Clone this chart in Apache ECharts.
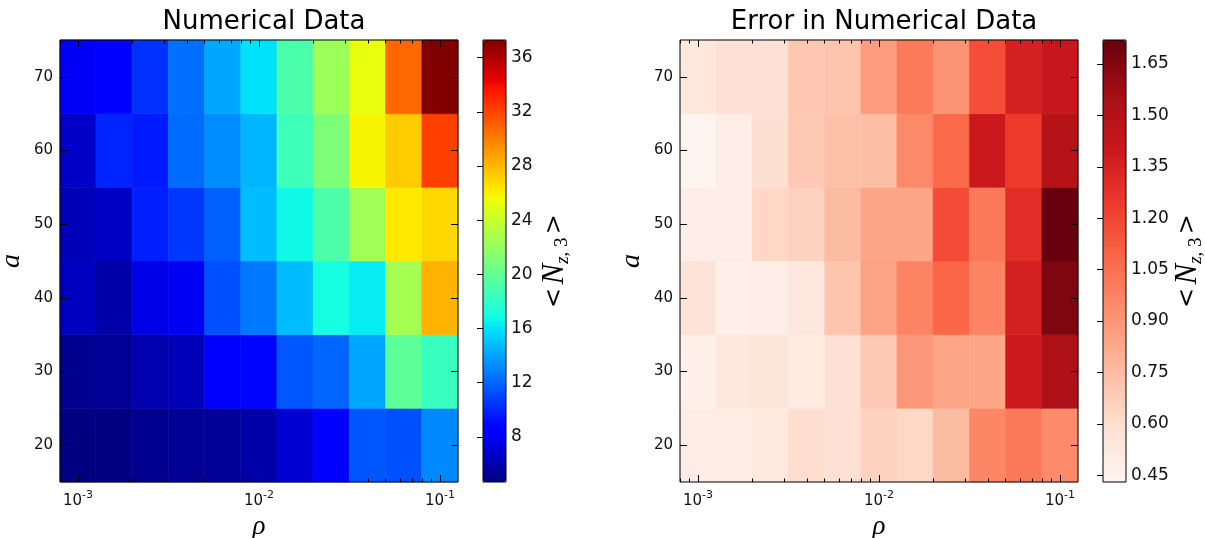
<!DOCTYPE html>
<html><head><meta charset="utf-8">
<script src="https://cdn.jsdelivr.net/npm/echarts@6/dist/echarts.min.js"></script>
<style>html,body{margin:0;padding:0;background:#fff}#c{width:1205px;height:538px}</style>
</head><body><div id="c"></div>
<script>
// ---------- data ----------
const rho = [0.001, 0.00158, 0.00251, 0.00398, 0.00631, 0.01, 0.0158, 0.0251, 0.0398, 0.0631, 0.1];
const aVals = [20, 30, 40, 50, 60, 70];
// rows: a = 20, 30, 40, 50, 60, 70 ; columns follow rho
const numerical = [
  [4.67, 4.75, 5.1, 5.2, 5.3, 5.8, 7.0, 8.3, 11.5, 11.3, 13.1],
  [5.1, 5.3, 6.0, 6.2, 8.4, 8.7, 11.5, 12.0, 14.1, 19.8, 18.3],
  [6.5, 5.8, 7.6, 8.0, 11.3, 12.6, 14.8, 17.0, 16.3, 22.6, 28.2],
  [6.3, 6.6, 9.7, 10.5, 11.8, 14.8, 16.7, 19.2, 22.5, 26.3, 26.9],
  [6.7, 9.9, 9.6, 12.2, 13.3, 14.6, 18.5, 21.1, 25.9, 27.3, 32.2],
  [8.1, 8.4, 10.3, 12.3, 14.1, 16.0, 19.1, 22.3, 25.3, 30.8, 37.3]
];
const errors = [
  [0.49, 0.49, 0.52, 0.60, 0.58, 0.65, 0.63, 0.75, 0.96, 1.02, 0.94],
  [0.46, 0.53, 0.55, 0.51, 0.58, 0.69, 0.89, 0.84, 0.84, 1.39, 1.52],
  [0.56, 0.47, 0.48, 0.53, 0.71, 0.85, 0.97, 1.09, 0.97, 1.36, 1.66],
  [0.48, 0.48, 0.63, 0.65, 0.75, 0.84, 0.84, 1.18, 1.02, 1.30, 1.72],
  [0.43, 0.48, 0.59, 0.69, 0.73, 0.74, 0.95, 1.07, 1.40, 1.24, 1.49],
  [0.53, 0.58, 0.58, 0.70, 0.71, 0.87, 1.01, 0.91, 1.17, 1.36, 1.41]
];
const titles = ['Numerical Data', 'Error in Numerical Data'];
const xMajorTicks = [0.001, 0.01, 0.1];
const yTicks = [20, 30, 40, 50, 60, 70];
const numBarTicks = [8, 12, 16, 20, 24, 28, 32, 36];
const errBarTicks = [0.45, 0.60, 0.75, 0.90, 1.05, 1.20, 1.35, 1.50, 1.65];
const xName = 'ρ';
const yName = 'a';

// ---------- colormaps ----------
function seg(t, pts) {
  for (let i = 1; i < pts.length; i++) {
    if (t <= pts[i][0]) {
      const [t0, v0] = pts[i - 1], [t1, v1] = pts[i];
      return v0 + (v1 - v0) * (t - t0) / (t1 - t0);
    }
  }
  return pts[pts.length - 1][1];
}
function jet(t) {
  const r = seg(t, [[0, 0], [0.35, 0], [0.66, 1], [0.89, 1], [1, 0.5]]);
  const g = seg(t, [[0, 0], [0.125, 0], [0.375, 1], [0.64, 1], [0.91, 0], [1, 0]]);
  const b = seg(t, [[0, 0.5], [0.11, 1], [0.34, 1], [0.65, 0], [1, 0]]);
  const h = v => Math.round(v * 255);
  return 'rgb(' + h(r) + ',' + h(g) + ',' + h(b) + ')';
}
const jetColors = [];
for (let i = 0; i <= 100; i++) jetColors.push(jet(i / 100));
const redsColors = ['#fff5f0', '#fee0d2', '#fcbba1', '#fc9272', '#fb6a4a', '#ef3b2c', '#cb181d', '#a50f15', '#67000d'];

// ---------- cell edges (from data) ----------
const xEdges = [];
xEdges.push(rho[0] / Math.sqrt(rho[1] / rho[0]));
for (let i = 0; i < rho.length - 1; i++) xEdges.push(Math.sqrt(rho[i] * rho[i + 1]));
xEdges.push(rho[rho.length - 1] * Math.sqrt(rho[rho.length - 1] / rho[rho.length - 2]));
const yEdges = [];
yEdges.push(aVals[0] - (aVals[1] - aVals[0]) / 2);
for (let i = 0; i < aVals.length - 1; i++) yEdges.push((aVals[i] + aVals[i + 1]) / 2);
yEdges.push(aVals[aVals.length - 1] + (aVals[aVals.length - 1] - aVals[aVals.length - 2]) / 2);

const xMinorTicks = [];
for (let e = -4; e <= 0; e++) for (let m = 2; m <= 9; m++) {
  const v = m * Math.pow(10, e);
  if (v > xEdges[0] && v < xEdges[xEdges.length - 1]) xMinorTicks.push(+v.toPrecision(3));
}

function cells(mat) {
  const out = [];
  mat.forEach((row, yi) => row.forEach((v, xi) => out.push([rho[xi], aVals[yi], v, xi, yi])));
  return out;
}
function flatMin(m) { return Math.min.apply(null, m.flat()); }
function flatMax(m) { return Math.max.apply(null, m.flat()); }

// ---------- layout ----------
const FONT = 'DejaVu Sans';
const heatGrids = [
  { left: 60, top: 40, width: 398, height: 442 },
  { left: 680, top: 40, width: 398, height: 442 }
];
const barGrids = [
  { left: 483, top: 40, width: 23, height: 442 },
  { left: 1103, top: 40, width: 23, height: 442 }
];
const gridBase = { show: true, borderColor: '#000', borderWidth: 1, backgroundColor: 'transparent', z: 10,
  containLabel: false, outerBoundsMode: 'none' };

const grid = [];
const xAxis = [];
const yAxis = [];
const series = [];
const visualMap = [];
const title = [];

const mathName = {
  rich: {
    op: { fontFamily: 'DejaVu Serif', fontSize: 24, color: '#000', lineHeight: 34, verticalAlign: 'middle' },
    n: { fontFamily: 'Liberation Serif', fontStyle: 'italic', fontSize: 31, color: '#000', lineHeight: 34, verticalAlign: 'middle' },
    sub: { fontFamily: 'Liberation Serif', fontStyle: 'italic', fontSize: 19, color: '#000', lineHeight: 34, verticalAlign: 'bottom' },
    subn: { fontFamily: 'Liberation Serif', fontSize: 19, color: '#000', lineHeight: 34, verticalAlign: 'bottom' }
  }
};
const tickStyle = { color: '#000', width: 1 };

[numerical, errors].forEach((mat, k) => {
  const gi = grid.length;
  grid.push(Object.assign({}, gridBase, heatGrids[k]));
  const base = { gridIndex: gi, type: 'log', logBase: 10, min: xEdges[0], max: xEdges[xEdges.length - 1], z: 10,
    splitLine: { show: false }, axisLine: { show: false } };
  const xi0 = xAxis.length;
  xAxis.push(Object.assign({}, base, {
    position: 'bottom',
    axisTick: { show: true, inside: true, length: 7, customValues: xMajorTicks, lineStyle: tickStyle },
    axisLabel: { show: true, customValues: xMajorTicks, margin: 8, color: '#000',
      formatter: v => '{b|10}{s|' + Math.round(Math.log10(v)) + '}',
      rich: { b: { fontFamily: FONT, fontSize: 15, color: '#111', lineHeight: 19, verticalAlign: 'bottom' },
              s: { fontFamily: FONT, fontSize: 11, color: '#111', lineHeight: 19, verticalAlign: 'top' } } },
    name: xName, nameLocation: 'middle', nameGap: 30,
    nameTextStyle: { fontFamily: 'Liberation Serif', fontStyle: 'italic', fontSize: 27, color: '#000' }
  }));
  xAxis.push(Object.assign({}, base, { position: 'bottom',
    axisTick: { show: true, inside: true, length: 3.5, customValues: xMinorTicks, lineStyle: tickStyle },
    axisLabel: { show: false } }));
  xAxis.push(Object.assign({}, base, { position: 'top',
    axisTick: { show: true, inside: true, length: 7, customValues: xMajorTicks, lineStyle: tickStyle },
    axisLabel: { show: false } }));
  xAxis.push(Object.assign({}, base, { position: 'top',
    axisTick: { show: true, inside: true, length: 3.5, customValues: xMinorTicks, lineStyle: tickStyle },
    axisLabel: { show: false } }));
  const ybase = { gridIndex: gi, type: 'value', min: yEdges[0], max: yEdges[yEdges.length - 1], z: 10,
    splitLine: { show: false }, axisLine: { show: false } };
  const yi0 = yAxis.length;
  yAxis.push(Object.assign({}, ybase, { position: 'left',
    axisTick: { show: true, inside: true, length: 7, customValues: yTicks, lineStyle: tickStyle },
    axisLabel: { show: true, customValues: yTicks, margin: 7, fontFamily: FONT, fontSize: 15, color: '#111' },
    name: yName, nameLocation: 'middle', nameGap: 34, nameRotate: 90,
    nameTextStyle: { fontFamily: 'Liberation Serif', fontStyle: 'italic', fontSize: 28, color: '#000' } }));
  yAxis.push(Object.assign({}, ybase, { position: 'right',
    axisTick: { show: true, inside: true, length: 7, customValues: yTicks, lineStyle: tickStyle },
    axisLabel: { show: false } }));

  const si = series.length;
  series.push({
    type: 'custom', xAxisIndex: xi0, yAxisIndex: yi0, z: 2,
    dimensions: ['rho', 'a', 'value', 'xi', 'yi'],
    encode: { x: 0, y: 1 },
    data: cells(mat),
    renderItem: (params, api) => {
      const xi = api.value(3), yi = api.value(4);
      const p0 = api.coord([xEdges[xi], yEdges[yi + 1]]);
      const p1 = api.coord([xEdges[xi + 1], yEdges[yi]]);
      const c = api.visual('color');
      return { type: 'rect', shape: { x: p0[0], y: p0[1], width: p1[0] - p0[0], height: p1[1] - p0[1] },
        style: { fill: c, stroke: c, lineWidth: 0.6 } };
    }
  });

  const vmin = flatMin(mat), vmax = flatMax(mat);
  const bg = barGrids[k];
  visualMap.push({
    type: 'continuous', seriesIndex: si, dimension: 2, min: vmin, max: vmax,
    inRange: { color: k === 0 ? jetColors : redsColors },
    calculable: false, hoverLink: false, orient: 'vertical', padding: 0,
    itemWidth: bg.width, itemHeight: bg.height, left: bg.left, top: bg.top, textGap: 0
  });

  const bgi = grid.length;
  grid.push(Object.assign({}, gridBase, bg));
  xAxis.push({ gridIndex: bgi, type: 'value', show: false, min: 0, max: 1 });
  const ticks = k === 0 ? numBarTicks : errBarTicks;
  yAxis.push({ gridIndex: bgi, type: 'value', position: 'right', min: vmin, max: vmax, z: 10,
    splitLine: { show: false }, axisLine: { show: false },
    axisTick: { show: true, inside: true, length: 6, customValues: ticks, lineStyle: tickStyle },
    axisLabel: { show: true, customValues: ticks, margin: 5, fontFamily: FONT, fontSize: 17, color: '#111',
      formatter: v => k === 0 ? String(v) : v.toFixed(2) },
    name: '{op|<} {n|N}{sub|z}{subn|, 3} {op|>}', nameLocation: 'middle', nameRotate: 90,
    nameGap: k === 0 ? 32 : 44, nameTextStyle: mathName });

  title.push({ text: titles[k], left: heatGrids[k].left + heatGrids[k].width / 2, top: 4, textAlign: 'center',
    textStyle: { fontFamily: FONT, fontSize: 26, fontWeight: 'normal', color: '#000' } });
});

const chart = echarts.init(document.getElementById('c'), null, { renderer: 'canvas' });
chart.setOption({ animation: false, backgroundColor: '#fff', title, grid, xAxis, yAxis, visualMap, series });
</script></body></html>
